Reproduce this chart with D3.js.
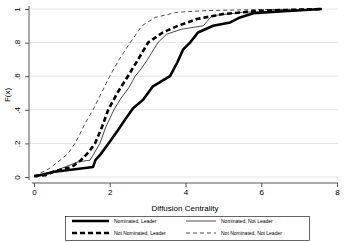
<!DOCTYPE html>
<meta charset="utf-8">
<title>Diffusion Centrality CDF</title>
<style>
  body { margin: 0; background: #fff; }
  text { font-family: "Liberation Sans", Arial, sans-serif; fill: #000; }
</style>
<body>
<svg id="chart" width="345" height="242"></svg>
<script src="https://d3js.org/d3.v7.min.js"></script>
<script>

// x = diffusion centrality, F = cumulative share
var nomLeaderX = [0.05, 0.5, 1.56, 1.62, 1.74, 2.0, 2.22, 2.4, 2.62, 2.88, 3.14, 3.59, 3.78, 3.94, 4.12, 4.33, 4.73, 5.18, 5.44, 5.79, 6.5, 7.6];
var nomLeaderF = [0.005, 0.03, 0.06, 0.1, 0.13, 0.21, 0.28, 0.34, 0.41, 0.46, 0.54, 0.6, 0.68, 0.76, 0.8, 0.86, 0.9, 0.92, 0.95, 0.975, 0.985, 1];

var nomNotLeaderX = [0, 0.5, 0.71, 1.16, 1.48, 1.74, 1.9, 2.11, 2.3, 2.5, 2.67, 2.85, 3.0, 3.27, 3.5, 3.9, 4.47, 4.7, 5.5, 7.6];
var nomNotLeaderF = [0.005, 0.03, 0.05, 0.09, 0.1, 0.2, 0.3, 0.4, 0.47, 0.53, 0.6, 0.65, 0.7, 0.8, 0.85, 0.88, 0.9, 0.96, 0.98, 1];

var notNomLeaderX = [0, 0.3, 0.5, 0.8, 1.0, 1.24, 1.45, 1.61, 1.8, 1.96, 2.2, 2.48, 2.75, 3.01, 3.4, 3.8, 4.3, 5.0, 6.0, 7.6];
var notNomLeaderF = [0.005, 0.01, 0.03, 0.05, 0.06, 0.1, 0.15, 0.2, 0.3, 0.4, 0.5, 0.6, 0.7, 0.8, 0.86, 0.9, 0.94, 0.97, 0.99, 1];

var notNomNotLeaderX = [0, 0.1, 0.4, 0.69, 0.9, 1.08, 1.2, 1.35, 1.56, 1.78, 2.0, 2.25, 2.54, 2.85, 3.2, 3.77, 4.5, 5.5, 7.5];
var notNomNotLeaderF = [0.01, 0.015, 0.05, 0.1, 0.14, 0.2, 0.25, 0.32, 0.4, 0.5, 0.6, 0.7, 0.8, 0.9, 0.95, 0.98, 0.99, 0.995, 1];

var xTicks = [0, 2, 4, 6, 8];
var yTicks = [0, 0.2, 0.4, 0.6, 0.8, 1];
var yTickLabels = ["0", ".2", ".4", ".6", ".8", "1"];

var seriesNames = ["Nominated, Leader", "Nominated, Not Leader", "Not Nominated, Leader", "Not Nominated, Not Leader"];

var svg = d3.select("#chart");

var x = d3.scaleLinear().domain([0, 8]).range([34, 337]);
var y = d3.scaleLinear().domain([0, 1]).range([177, 9]);

// gridlines
svg.append("g")
  .selectAll("line")
  .data(yTicks)
  .enter().append("line")
    .attr("x1", 29).attr("x2", 338)
    .attr("y1", function (d) { return y(d); })
    .attr("y2", function (d) { return y(d); })
    .attr("stroke", "#e6e6e6")
    .attr("stroke-width", 1);

// y axis (stata style, rotated labels)
var yAxis = svg.append("g")
  .attr("transform", "translate(29,0)")
  .call(d3.axisLeft(y).tickValues(yTicks).tickSize(4).tickPadding(3)
    .tickFormat(function (d, i) { return yTickLabels[i]; }));
yAxis.select(".domain").attr("d", "M0," + (y(1) - 3) + "V" + (y(0) + 3)).attr("stroke", "#555");
yAxis.selectAll(".tick line").attr("stroke", "#555");
yAxis.selectAll(".tick text")
  .attr("font-size", 8)
  .attr("text-anchor", "middle")
  .attr("transform", function () { return "rotate(-90)"; })
  .attr("x", 0).attr("y", -10).attr("dy", "0.35em")
  .each(function (d) {
    d3.select(this).attr("transform", null)
      .attr("x", null).attr("y", null).attr("dy", null)
      .attr("transform", "translate(-9,0) rotate(-90)")
      .attr("dy", "0em");
  });

// x axis
var xAxis = svg.append("g")
  .attr("transform", "translate(0,183)")
  .call(d3.axisBottom(x).tickValues(xTicks).tickSize(4).tickPadding(2)
    .tickFormat(d3.format("d")));
xAxis.select(".domain").attr("d", "M" + (x(0) - 2) + ",0H" + (x(8) + 1)).attr("stroke", "#555");
xAxis.selectAll(".tick line").attr("stroke", "#555");
xAxis.selectAll(".tick text").attr("font-size", 8);

svg.append("text")
  .attr("transform", "translate(10,95) rotate(-90)")
  .attr("text-anchor", "middle")
  .attr("font-size", 8)
  .text("F(x)");

svg.append("text")
  .attr("x", 185).attr("y", 211)
  .attr("text-anchor", "middle")
  .attr("font-size", 8)
  .text("Diffusion Centrality");

// curves
var styles = [
  { w: 2.6, dash: null },
  { w: 0.7, dash: null },
  { w: 2.6, dash: "5,3" },
  { w: 0.7, dash: "4,3" }
];

var series = [
  d3.zip(nomLeaderX, nomLeaderF),
  d3.zip(nomNotLeaderX, nomNotLeaderF),
  d3.zip(notNomLeaderX, notNomLeaderF),
  d3.zip(notNomNotLeaderX, notNomNotLeaderF)
];

var line = d3.line()
  .x(function (d) { return x(d[0]); })
  .y(function (d) { return y(d[1]); });

svg.append("g")
  .selectAll("path")
  .data(series)
  .enter().append("path")
    .attr("d", line)
    .attr("fill", "none")
    .attr("stroke", "#000")
    .attr("stroke-linejoin", "round")
    .attr("stroke-width", function (d, i) { return styles[i].w; })
    .attr("stroke-dasharray", function (d, i) { return styles[i].dash; });

// legend
var legend = svg.append("g");
legend.append("rect")
  .attr("x", 65.5).attr("y", 216.5)
  .attr("width", 244).attr("height", 24)
  .attr("fill", "#fff")
  .attr("stroke", "#000")
  .attr("stroke-width", 0.6);

var legPos = [[72, 221], [186, 221], [72, 233], [186, 233]];
var legLen = [37, 30, 37, 30];

seriesNames.forEach(function (name, i) {
  var p = legPos[i];
  legend.append("line")
    .attr("x1", p[0]).attr("x2", p[0] + legLen[i])
    .attr("y1", p[1]).attr("y2", p[1])
    .attr("stroke", "#000")
    .attr("stroke-width", styles[i].w)
    .attr("stroke-dasharray", styles[i].dash);
  legend.append("text")
    .attr("x", p[0] + legLen[i] + 5).attr("y", p[1])
    .attr("dy", "0.35em")
    .attr("font-size", 5)
    .text(name);
});

</script>
</body>
</html>
